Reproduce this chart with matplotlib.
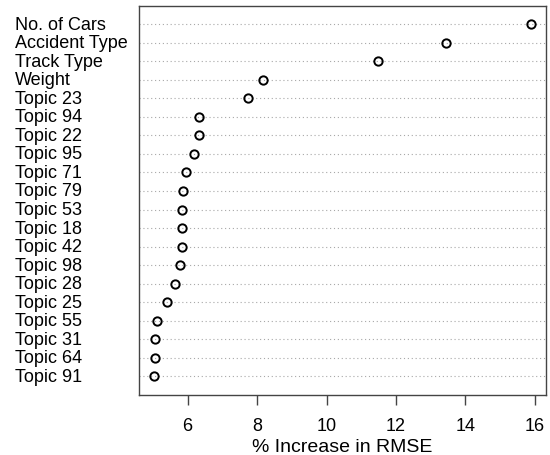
import matplotlib
matplotlib.use("Agg")
import matplotlib.pyplot as plt
import numpy as np

plt.rcParams["font.family"] = ["Liberation Sans", "DejaVu Sans"]

# Variables, top to bottom
labels = ["No. of Cars", "Accident Type", "Track Type", "Weight", "Topic 23",
          "Topic 94", "Topic 22", "Topic 95", "Topic 71", "Topic 79",
          "Topic 53", "Topic 18", "Topic 42", "Topic 98", "Topic 28",
          "Topic 25", "Topic 55", "Topic 31", "Topic 64", "Topic 91"]
rmse_increase = [15.90, 13.45, 11.47, 8.18, 7.74,
                 6.33, 6.32, 6.19, 5.94, 5.86,
                 5.85, 5.85, 5.84, 5.79, 5.63,
                 5.42, 5.12, 5.07, 5.06, 5.04]
xticks = [6, 8, 10, 12, 14, 16]

n = len(labels)
ypos = np.arange(n, 0, -1)

fig = plt.figure(figsize=(5.5, 4.56), dpi=100)
ax = fig.add_axes([0.2527, 0.1316, 0.74, 0.8541])

for y in ypos:
    ax.axhline(y, color="#a8a8a8", linestyle=(0, (1, 2.5)), linewidth=0.8, zorder=1)

ax.plot(rmse_increase, ypos, linestyle="none", marker="o", markersize=6,
        markerfacecolor="none", markeredgecolor="black", markeredgewidth=1.4, zorder=3)

ax.set_xlim(4.60, 16.32)
ax.set_ylim(0, n + 1)
ax.set_yticks([])
ax.set_xticks(xticks)
ax.set_xticklabels([str(t) for t in xticks], fontsize=13)
ax.tick_params(axis="x", length=7, width=1, color="#444444", pad=9)
ax.set_xlabel("% Increase in RMSE", fontsize=14, labelpad=3)

for spine in ax.spines.values():
    spine.set_color("#444444")
    spine.set_linewidth(1)

# row labels, left aligned at the figure edge
for lab, y in zip(labels, ypos):
    ax.text(-0.305, y, lab, transform=ax.get_yaxis_transform(), ha="left",
            va="center", fontsize=13)

fig.savefig("out.png", dpi=100)
